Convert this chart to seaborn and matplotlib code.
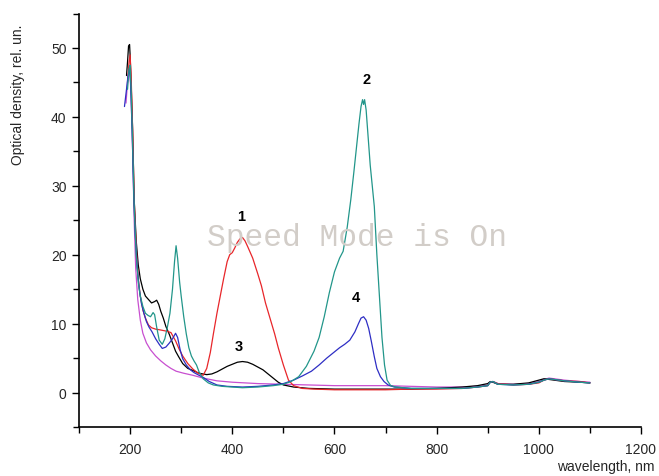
import matplotlib
matplotlib.use("Agg")
import matplotlib.pyplot as plt
from matplotlib.ticker import MultipleLocator
import seaborn as sns
import pandas as pd

# ---- data (wavelength nm, optical density) ----
curve_black = [(193, 46), (195, 48), (197, 50.3), (199, 50.5), (200, 49), (202, 45), (205, 38), (208, 28),
               (212, 22), (216, 18.5), (220, 16.5), (225, 15), (230, 14), (236, 13.5), (242, 13),
               (248, 13.2), (252, 13.4), (256, 12.8), (260, 11.8), (265, 10.8), (270, 9.6), (277, 8.4),
               (283, 7.2), (289, 6.0), (295, 5.2), (303, 4.2), (313, 3.5), (323, 3.2), (335, 2.8),
               (350, 2.6), (360, 2.7), (370, 3.0), (380, 3.4), (390, 3.8), (400, 4.1), (410, 4.4),
               (420, 4.5), (430, 4.4), (440, 4.1), (450, 3.7), (460, 3.3), (470, 2.7), (480, 2.1),
               (490, 1.5), (500, 1.1), (520, 0.8), (550, 0.6), (600, 0.5), (650, 0.5), (700, 0.5),
               (750, 0.5), (800, 0.6), (850, 0.8), (880, 1.0), (900, 1.3), (905, 1.6), (910, 1.5),
               (920, 1.2), (950, 1.2), (980, 1.4), (1000, 1.8), (1010, 2.0), (1020, 1.9), (1030, 1.8),
               (1050, 1.6), (1080, 1.5), (1100, 1.4)]

curve_red = [(195, 45), (198, 48), (200, 49), (202, 46), (205, 38), (208, 28), (212, 21), (216, 16.5),
             (220, 14), (225, 12), (230, 10.8), (236, 9.8), (242, 9.4), (250, 9.2), (258, 9.1),
             (265, 9.0), (272, 8.9), (280, 8.7), (289, 7.5), (296, 6.3), (303, 5.3), (313, 4.2),
             (323, 3.4), (333, 2.8), (343, 2.5), (350, 3.5), (357, 5.8), (363, 8.5), (370, 11.5),
             (377, 14.2), (383, 16.5), (390, 19.0), (395, 20.0), (400, 20.3), (405, 21.0), (410, 21.8),
             (415, 22.3), (420, 22.5), (425, 22.0), (430, 21.2), (440, 19.5), (450, 17.2), (457, 15.5),
             (465, 13.0), (475, 10.5), (483, 8.5), (490, 6.5), (500, 4.0), (510, 1.8), (520, 1.0),
             (537, 0.6), (560, 0.5), (600, 0.4), (650, 0.4), (700, 0.4), (750, 0.5), (800, 0.5),
             (850, 0.6), (880, 0.8), (900, 1.0), (905, 1.5), (910, 1.6), (920, 1.3), (950, 1.1),
             (980, 1.2), (1000, 1.4), (1010, 1.8), (1020, 2.0), (1030, 1.9), (1050, 1.7), (1080, 1.6),
             (1100, 1.4)]

curve_teal = [(195, 44), (198, 47), (200, 47.5), (202, 44), (205, 36), (208, 27), (212, 20), (216, 16),
              (220, 14), (225, 12.5), (230, 11.5), (235, 11.2), (240, 11.0), (245, 11.6), (248, 11.3),
              (252, 9.5), (257, 7.6), (263, 7.0), (268, 7.8), (273, 9.5), (278, 11.5), (283, 15),
              (287, 19), (290, 21.3), (293, 19.5), (297, 16), (300, 14), (305, 11), (310, 8.5),
              (315, 6.5), (320, 5.3), (325, 4.6), (330, 4.0), (335, 3.0), (343, 2.0), (353, 1.4),
              (363, 1.1), (380, 0.9), (400, 0.8), (420, 0.7), (450, 0.8), (480, 1.0), (500, 1.2),
              (515, 1.6), (530, 2.3), (545, 3.8), (560, 6), (570, 8), (580, 11), (590, 14.5),
              (600, 17.5), (610, 19.5), (617, 20.5), (625, 24), (632, 28), (638, 32), (643, 35.5),
              (648, 39), (652, 41.5), (655, 42.5), (657, 41.8), (659, 42.5), (662, 41), (666, 37),
              (670, 33), (674, 30), (678, 27), (683, 20), (688, 14), (693, 8), (698, 4), (703, 1.8),
              (710, 1.0), (720, 0.8), (750, 0.6), (800, 0.6), (850, 0.6), (880, 0.8), (900, 1.0),
              (905, 1.5), (910, 1.6), (920, 1.2), (950, 1.1), (980, 1.2), (1000, 1.5), (1010, 1.8),
              (1020, 2.0), (1030, 1.9), (1050, 1.7), (1080, 1.5), (1100, 1.4)]

curve_blue = [(189, 41.5), (193, 44), (196, 46), (199, 47), (201, 45), (204, 38), (207, 29), (210, 23),
              (214, 18), (218, 15), (222, 13), (227, 11.5), (232, 10.3), (237, 9.5), (243, 8.8),
              (250, 7.8), (257, 7.0), (263, 6.4), (270, 6.6), (277, 7.2), (283, 7.8), (289, 8.6),
              (293, 8.0), (298, 6.2), (303, 4.9), (310, 4.0), (318, 3.3), (325, 2.9), (335, 2.5),
              (343, 2.2), (355, 1.6), (370, 1.1), (390, 0.9), (420, 0.8), (450, 0.9), (480, 1.1),
              (500, 1.3), (520, 1.8), (537, 2.4), (555, 3.1), (570, 4.0), (585, 5.0), (600, 5.9),
              (610, 6.5), (620, 7.0), (630, 7.6), (640, 8.8), (647, 10.0), (652, 10.8), (657, 11.0),
              (662, 10.5), (667, 9.3), (672, 7.5), (678, 5.2), (683, 3.5), (690, 2.3), (697, 1.6),
              (705, 1.1), (717, 0.8), (750, 0.6), (800, 0.6), (850, 0.6), (880, 0.8), (900, 1.0),
              (905, 1.5), (910, 1.6), (920, 1.2), (950, 1.1), (980, 1.2), (1000, 1.5), (1010, 1.8),
              (1020, 2.0), (1030, 1.9), (1050, 1.7), (1080, 1.5), (1100, 1.4)]

curve_magenta = [(192, 42), (195, 45), (198, 46.5), (200, 46), (202, 43), (205, 35), (208, 25), (211, 18),
                 (215, 13.5), (220, 10.5), (225, 8.6), (232, 7.2), (240, 6.2), (250, 5.3), (260, 4.6),
                 (270, 4.0), (280, 3.5), (290, 3.1), (305, 2.8), (323, 2.5), (343, 2.1), (370, 1.7),
                 (400, 1.5), (450, 1.3), (500, 1.2), (550, 1.1), (600, 1.0), (650, 1.0), (700, 1.0),
                 (750, 0.9), (800, 0.8), (850, 0.8), (880, 0.9), (900, 1.1), (905, 1.5), (910, 1.6),
                 (920, 1.3), (950, 1.2), (980, 1.3), (1000, 1.6), (1010, 1.9), (1020, 2.1), (1030, 2.0),
                 (1050, 1.8), (1080, 1.6), (1100, 1.5)]

curve_names = ["magenta", "black", "red", "blue", "teal"]
curve_colors = ["#c84fd0", "#000000", "#e8262a", "#2e2ec4", "#22968a"]

label_texts = ["1", "2", "3", "4"]
label_x = [418, 663, 413, 641]
label_y = [25.6, 45.5, 6.8, 13.9]

x_ticks = [200, 400, 600, 800, 1000, 1200]
y_ticks = [0, 10, 20, 30, 40, 50]

curves = {"magenta": curve_magenta, "black": curve_black, "red": curve_red,
          "blue": curve_blue, "teal": curve_teal}

rows = []
for name in curve_names:
    for w, v in curves[name]:
        rows.append({"curve": name, "wl": w, "od": v})
df = pd.DataFrame(rows)

sns.set_style("ticks")
plt.rcParams["font.family"] = ["Liberation Sans", "DejaVu Sans"]

fig = plt.figure(figsize=(6.59, 4.77), dpi=100)
ax = fig.add_axes([79 / 659, 1 - 428 / 477, (641 - 79) / 659, (428 - 14.5) / 477])

for name, col in zip(curve_names, curve_colors):
    sub = df[df["curve"] == name]
    sns.lineplot(data=sub, x="wl", y="od", ax=ax, color=col, linewidth=0.9,
                 sort=False, estimator=None, legend=False)

ax.set_xlim(100, 1200)
ax.set_ylim(-5, 55)
ax.set_xticks(x_ticks)
ax.set_yticks(y_ticks)
ax.xaxis.set_minor_locator(MultipleLocator(100))
ax.yaxis.set_minor_locator(MultipleLocator(5))
ax.tick_params(axis="x", which="major", length=5, width=1.0, labelsize=10, color="black", pad=6)
ax.tick_params(axis="y", which="major", length=5, width=1.0, labelsize=10, color="black", pad=4)
ax.tick_params(axis="both", which="minor", length=4, width=1.0, color="black")
sns.despine(ax=ax)
for sp in ["left", "bottom"]:
    ax.spines[sp].set_linewidth(1.2)
    ax.spines[sp].set_color("black")
ax.set_xlabel("")
ax.set_ylabel("")

for t, x, y in zip(label_texts, label_x, label_y):
    ax.text(x, y, t, ha="center", va="center", fontsize=10.5, fontweight="bold", color="black")

fig.text(357 / 659, 1 - 238 / 477, "Speed Mode is On", ha="center", va="center",
         fontsize=22.5, color="#d2cdc8", family=["Liberation Mono", "DejaVu Sans Mono"])

fig.text(655 / 659, 1 - 467 / 477, "wavelength, nm", ha="right", va="center", fontsize=10)
fig.text(18 / 659, 1 - 95 / 477, "Optical density, rel. un.", ha="center", va="center",
         rotation=90, fontsize=10)

fig.savefig("out.png", dpi=100)
